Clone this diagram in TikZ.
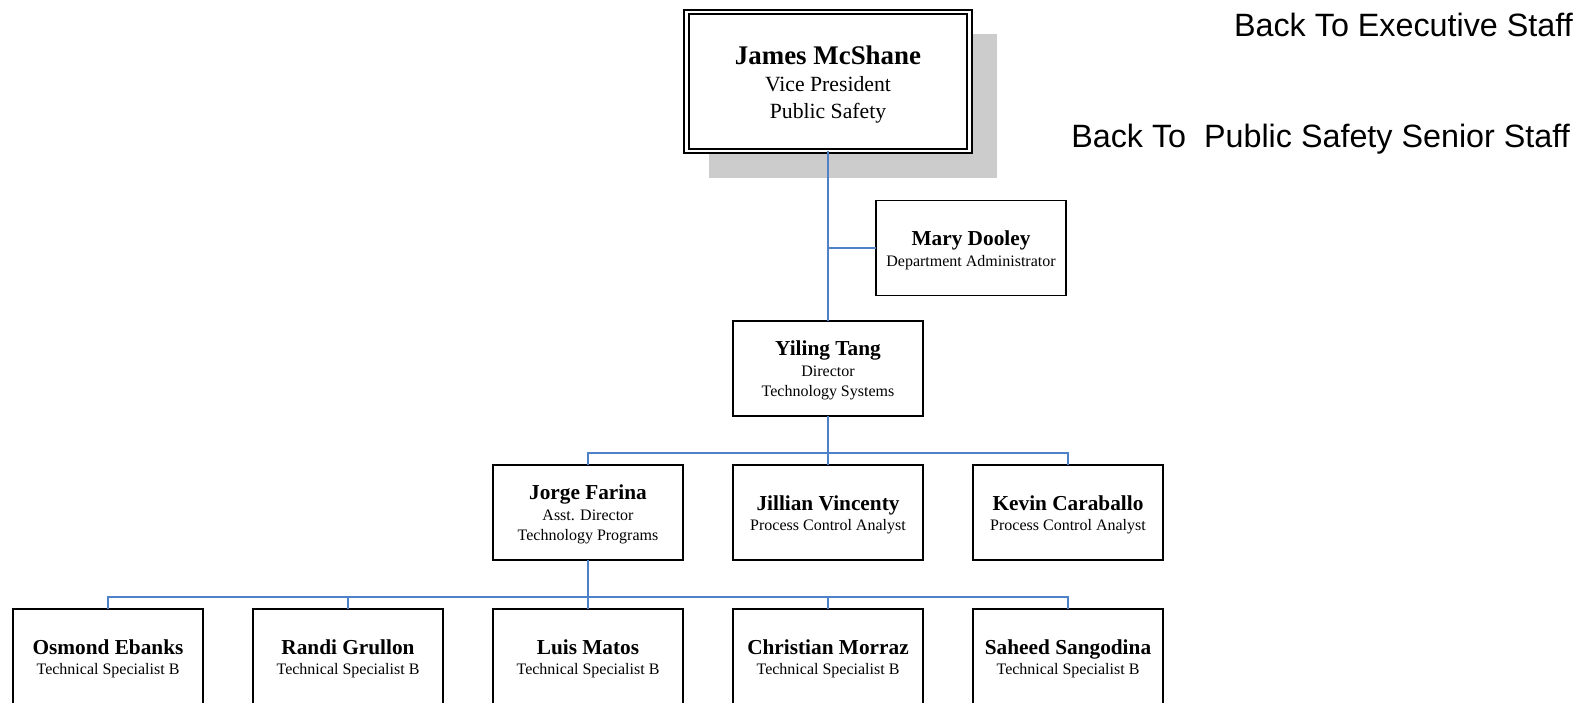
\documentclass[tikz,border=0pt]{standalone}
\usepackage{fontspec}
\setmainfont{Liberation Serif}
\newfontfamily\linkfont{Liberation Sans}
\usepackage{xcolor}
\definecolor{orgblue}{HTML}{4F81C9}
\usetikzlibrary{positioning,backgrounds,calc}
\tikzset{
  pbox/.style ={rectangle, draw=black, line width=1.5pt, fill=white, align=center,
                minimum width=190pt, minimum height=95pt, inner sep=2pt, outer sep=0pt,
                font=\fontsize{16}{20.5}\selectfont},
  vpbox/.style={pbox, double, double distance=2.5pt, line width=1.8pt,
                minimum width=283pt, minimum height=139pt, font=\fontsize{21.7}{27}\selectfont},
  conn/.style ={draw=orgblue, line width=1.8pt},
  link/.style ={font=\linkfont\fontsize{32.3}{32}\selectfont, anchor=base east, inner sep=0pt},
}
\newcommand{\pname}[1]{{\fontsize{21.3}{21}\selectfont\bfseries\rule{0pt}{19pt}#1}}
\newcommand{\vpname}[1]{{\fontsize{26.9}{27}\selectfont\bfseries\rule{0pt}{25pt}#1}}

\begin{document}
\begin{tikzpicture}[x=1pt, y=-1pt, node distance=49pt and 50pt]
  \useasboundingbox (0,0) rectangle (1585,703);
  \clip (0,0) rectangle (1585,703);
  \node[vpbox] (vp) at (828,81.5) {\vpname{James McShane}\\Vice President\\Public Safety};
  \begin{scope}[on background layer]
    \fill[black!20] ($(vp.north west)+(22,22)$) rectangle ($(vp.south east)+(27,27)$);
  \end{scope}
  \node[pbox, below=170pt of vp] (dir) {\pname{Yiling Tang}\\Director\\Technology Systems};
  \coordinate[below=97pt of vp] (br);
  \node[pbox, right=48pt of br] (admin) {\pname{Mary Dooley}\\Department Administrator};
  % second level
  \node[pbox, below=of dir] (jv) {\pname{Jillian Vincenty}\\Process Control Analyst};
  \node[pbox, left=of jv] (jf) {\pname{Jorge Farina}\\Asst. Director\\Technology Programs};
  \node[pbox, right=of jv] (kc) {\pname{Kevin Caraballo}\\Process Control Analyst};
  % third level
  \node[pbox, below=of jf] (lm) {\pname{Luis Matos}\\Technical Specialist B};
  \node[pbox, left=of lm] (rg) {\pname{Randi Grullon}\\Technical Specialist B};
  \node[pbox, left=of rg] (oe) {\pname{Osmond Ebanks}\\Technical Specialist B};
  \node[pbox, right=of lm] (cm) {\pname{Christian Morraz}\\Technical Specialist B};
  \node[pbox, right=of cm] (ss) {\pname{Saheed Sangodina}\\Technical Specialist B};
  % connectors
  \draw[conn] (vp) -- (dir);
  \draw[conn] (br) -- (admin);
  \coordinate[above=12pt of jv] (bus1);
  \draw[conn] (dir) -- (jv);
  \foreach \n in {jf,kc} \draw[conn] (\n) |- (bus1);
  \coordinate[above=12pt of lm] (bus2);
  \draw[conn] (jf) -- (lm);
  \foreach \n in {oe,rg,cm,ss} \draw[conn] (\n) |- (bus2);
  % links
  \node[link] (exec) at (1573,37) {Back To Executive Staff};
  \node[link] (senior) at (1570,148) {Back To\ \ Public Safety Senior Staff};
\end{tikzpicture}
\end{document}
